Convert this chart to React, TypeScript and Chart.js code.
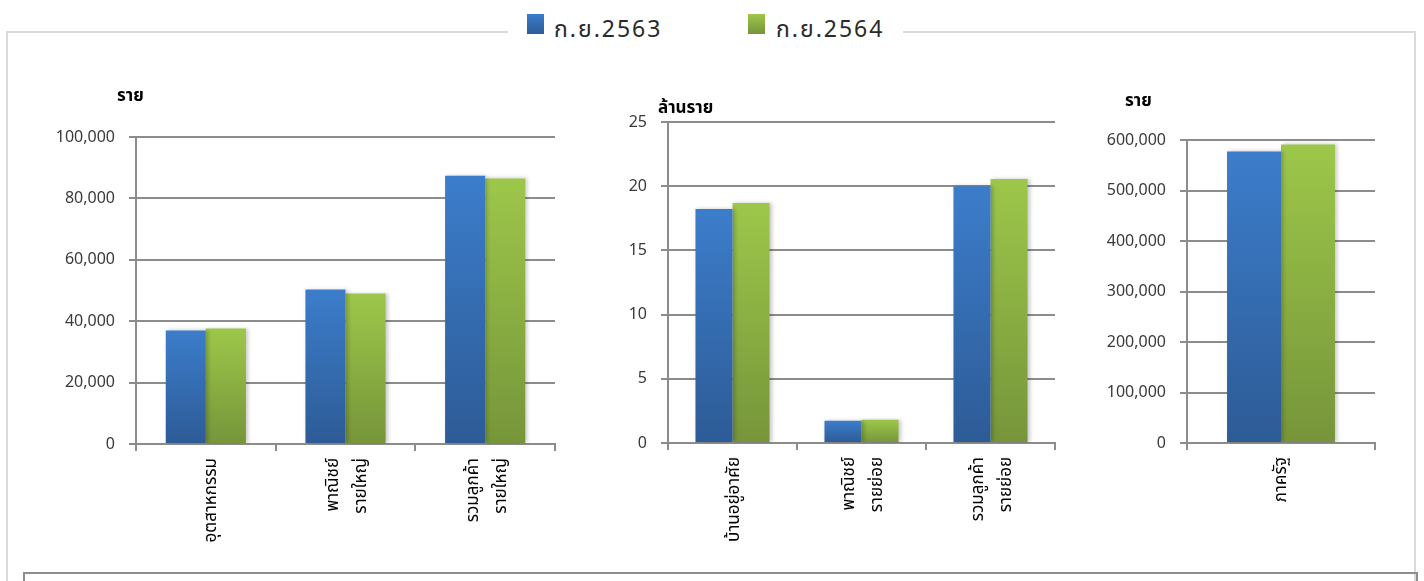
import React, { useEffect, useRef } from "react";
import { Chart, registerables } from "chart.js";

Chart.register(...registerables);

// ---------- data ----------
const SERIES_NAMES = ["ก.ย.2563", "ก.ย.2564"];

const C1_UNIT = "ราย";
const C1_LABELS = [["อุตสาหกรรม"], ["พาณิชย์", "รายใหญ่"], ["รวมลูกค้า", "รายใหญ่"]];
const C1_2563 = [37000, 50300, 87400];
const C1_2564 = [37600, 49000, 86500];
const C1_MAX = 100000;
const C1_STEP = 20000;

const C2_UNIT = "ล้านราย";
const C2_LABELS = [["บ้านอยู่อาศัย"], ["พาณิชย์", "รายย่อย"], ["รวมลูกค้า", "รายย่อย"]];
const C2_2563 = [18.22, 1.73, 20.0];
const C2_2564 = [18.69, 1.81, 20.56];
const C2_MAX = 25;
const C2_STEP = 5;

const C3_UNIT = "ราย";
const C3_LABELS = [["ภาครัฐ"]];
const C3_2563 = [577400];
const C3_2564 = [591300];
const C3_MAX = 600000;
const C3_STEP = 100000;

// ---------- styles ----------
const BLUE_TOP = "#3c7dcb";
const BLUE_BOT = "#2d5b96";
const GREEN_TOP = "#9dc74a";
const GREEN_BOT = "#76953a";
const GRID = "#8c8c8c";
const FONT = "'Noto Sans', 'Noto Sans Thai', Tahoma, 'DejaVu Sans', sans-serif";
const XFONT_SIZE = 17;

const gradient = (top: string, bot: string) => (ctx: any) => {
  const chart = ctx.chart;
  const y = chart.scales && chart.scales.y;
  if (!y || ctx.type !== "data") return top;
  const v = ctx.raw as number;
  const y0 = y.getPixelForValue(v);
  const y1 = y.getPixelForValue(0);
  if (!isFinite(y0) || !isFinite(y1) || y1 - y0 < 1) return top;
  const g = chart.ctx.createLinearGradient(0, y0, 0, y1);
  g.addColorStop(0, top);
  g.addColorStop(1, bot);
  return g;
};

const shadowPlugin = {
  id: "barShadow",
  beforeDatasetsDraw(chart: any) {
    const c = chart.ctx;
    c.save();
    c.shadowColor = "rgba(0,0,0,0.22)";
    c.shadowBlur = 4;
    c.shadowOffsetX = 2;
    c.shadowOffsetY = 0;
  },
  afterDatasetsDraw(chart: any) {
    chart.ctx.restore();
  },
};

const unitPlugin = {
  id: "unitLabel",
  afterDraw(chart: any, _args: any, opts: any) {
    const c = chart.ctx;
    const a = chart.chartArea;
    c.save();
    c.font = `bold 17px ${FONT}`;
    c.fillStyle = "#000";
    c.textBaseline = "middle";
    c.textAlign = "left";
    c.fillText(opts.text, a.left + opts.dx, a.top + opts.dy);
    c.restore();
  },
};

type PanelProps = {
  labels: string[][];
  a: number[];
  b: number[];
  max: number;
  step: number;
  unit: string;
  left: number;
  top: number;
  width: number;
  height: number;
  yWidth: number;
  padTop: number;
  xHeight: number;
  unitDx: number;
  unitDy: number;
  singleShift: number;
};

function BarPanel(p: PanelProps) {
  const ref = useRef<HTMLCanvasElement>(null);
  useEffect(() => {
    if (!ref.current) return;
    const chart = new Chart(ref.current, {
      type: "bar",
      data: {
        labels: p.labels as any,
        datasets: [
          { label: SERIES_NAMES[0], data: p.a, backgroundColor: gradient(BLUE_TOP, BLUE_BOT) as any, borderWidth: 0 },
          { label: SERIES_NAMES[1], data: p.b, backgroundColor: gradient(GREEN_TOP, GREEN_BOT) as any, borderWidth: 0 },
        ],
      },
      options: {
        animation: false,
        responsive: false,
        maintainAspectRatio: false,
        layout: { padding: { top: p.padTop, right: 15, left: 0, bottom: 0 } },
        datasets: { bar: { categoryPercentage: 0.574, barPercentage: 1 } },
        plugins: {
          legend: { display: false },
          tooltip: { enabled: false },
          unitLabel: { text: p.unit, dx: p.unitDx, dy: p.unitDy },
        } as any,
        scales: {
          x: {
            grid: { drawOnChartArea: false, drawTicks: true, tickLength: 7, color: GRID, lineWidth: 2, offset: true },
            border: { color: GRID, width: 2 },
            ticks: {
              maxRotation: 90,
              minRotation: 90,
              autoSkip: false,
              padding: 7,
              labelOffset: -12.5,
              color: "#000",
              callback: (_v: any, i: number) => {
                const l = p.labels[i] || [];
                return l.length > 1 ? l : ["", l[0]];
              },
              font: ((ctx: any) => {
                const lbl = p.labels[ctx.index] || [];
                return {
                  family: FONT,
                  size: XFONT_SIZE,
                  lineHeight: lbl.length > 1 ? "28px" : `${12.5 + p.singleShift}px`,
                };
              }) as any,
            },
            afterFit: (s: any) => {
              s.height = p.xHeight;
            },
          },
          y: {
            min: 0,
            max: p.max,
            ticks: {
              stepSize: p.step,
              padding: 14,
              color: "#3a3a3a",
              font: { family: FONT, size: 16 },
              callback: (v: any) => Number(v).toLocaleString("en-US"),
            },
            grid: { color: GRID, lineWidth: 2, tickLength: 7 },
            border: { color: GRID, width: 2 },
            afterFit: (s: any) => {
              s.width = p.yWidth;
            },
          },
        },
      },
      plugins: [shadowPlugin, unitPlugin],
    });
    return () => chart.destroy();
  }, []);
  return (
    <canvas
      ref={ref}
      width={p.width}
      height={p.height}
      style={{ position: "absolute", left: p.left, top: p.top, width: p.width, height: p.height }}
    />
  );
}

export default function App() {
  const legendText: React.CSSProperties = {
    position: "absolute",
    top: 5,
    fontSize: 23,
    lineHeight: "30px",
    letterSpacing: "2px",
    color: "#2a2a2a",
    whiteSpace: "nowrap",
  };
  return (
    <div style={{ position: "absolute", left: 0, top: 0, width: 1424, height: 581, background: "#fff", overflow: "hidden", fontFamily: FONT }}>
      {/* outer frame */}
      <div style={{ position: "absolute", left: 6, top: 31, width: 1410, height: 600, border: "2px solid #dadada", boxSizing: "border-box" }} />
      {/* bottom inner box */}
      <div style={{ position: "absolute", left: 23, top: 572, width: 1395, height: 40, border: "2px solid #8e8e8e", boxSizing: "border-box" }} />
      {/* legend */}
      <div style={{ position: "absolute", left: 508, top: 8, width: 395, height: 40, background: "#fff" }}>
        <div style={{ position: "absolute", left: 19, top: 6, width: 17, height: 20, background: "linear-gradient(#3c7dcb, #2d5b96)" }} />
        <div style={{ ...legendText, left: 46 }}>{SERIES_NAMES[0]}</div>
        <div style={{ position: "absolute", left: 240, top: 6, width: 17, height: 20, background: "linear-gradient(#9dc74a, #76953a)" }} />
        <div style={{ ...legendText, left: 268 }}>{SERIES_NAMES[1]}</div>
      </div>
      <BarPanel labels={C1_LABELS} a={C1_2563} b={C1_2564} max={C1_MAX} step={C1_STEP} unit={C1_UNIT}
        left={30} top={60} width={540} height={512} yWidth={106} padTop={77} xHeight={128}
        unitDx={-19} unitDy={-41} singleShift={5} />
      <BarPanel labels={C2_LABELS} a={C2_2563} b={C2_2564} max={C2_MAX} step={C2_STEP} unit={C2_UNIT}
        left={590} top={60} width={480} height={512} yWidth={78} padTop={62} xHeight={129}
        unitDx={-10} unitDy={-14} singleShift={2} />
      <BarPanel labels={C3_LABELS} a={C3_2563} b={C3_2564} max={C3_MAX} step={C3_STEP} unit={C3_UNIT}
        left={1090} top={60} width={300} height={512} yWidth={97} padTop={80} xHeight={129}
        unitDx={-62} unitDy={-39} singleShift={0} />
    </div>
  );
}
